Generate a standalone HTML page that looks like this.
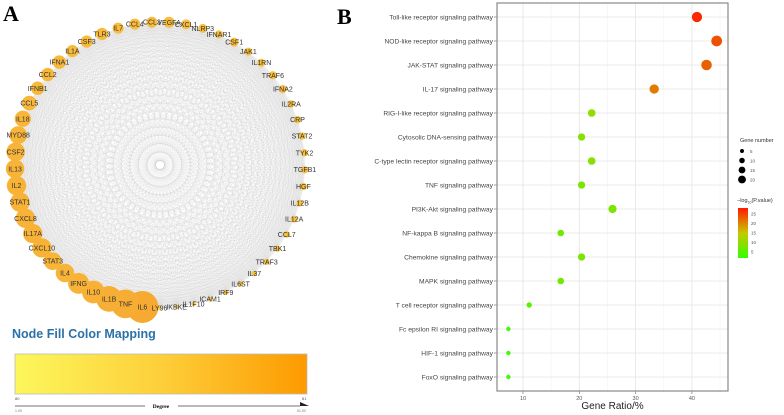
<!DOCTYPE html>
<html><head><meta charset="utf-8"><style>
body{margin:0;background:#fff;}
svg{display:block;font-family:"Liberation Sans",sans-serif;}
</style></head><body>
<svg id="fig" width="784" height="415" viewBox="0 0 784 415">
<defs>
<linearGradient id="degGrad" x1="0" x2="1" y1="0" y2="0"><stop offset="0" stop-color="#fdf75c"/><stop offset="0.5" stop-color="#fdcf3a"/><stop offset="1" stop-color="#fd9a00"/></linearGradient>
<linearGradient id="pGrad" x1="0" x2="0" y1="1" y2="0"><stop offset="0" stop-color="#33ff00"/><stop offset="0.5" stop-color="#c8c800"/><stop offset="1" stop-color="#ff1a00"/></linearGradient>
</defs>
<text x="3" y="21" font-family="Liberation Serif,serif" font-weight="bold" font-size="22">A</text>
<text x="337" y="24" font-family="Liberation Serif,serif" font-weight="bold" font-size="22">B</text>
<g id="edges"></g>
<g id="nodes"></g>
<g id="labels"></g>
<text x="12" y="338" font-size="12.5" font-weight="bold" fill="#2a72a8">Node Fill Color Mapping</text>
<rect x="15" y="354" width="292" height="40" fill="url(#degGrad)" stroke="#bbb" stroke-width="0.8"/>
<text x="15" y="400" font-size="4" fill="#555">80</text>
<text x="302" y="400" font-size="4" fill="#555">81</text>
<line x1="15" y1="406" x2="145" y2="406" stroke="#444" stroke-width="0.8"/>
<line x1="178" y1="406" x2="300" y2="406" stroke="#444" stroke-width="0.8"/>
<polygon points="300,402 309,406 300,406" fill="#222"/>
<text x="161" y="408" font-family="Liberation Serif,serif" font-size="5.5" font-weight="bold" text-anchor="middle">Degree</text>
<text x="15" y="412" font-size="3.5" fill="#777">1.00</text>
<text x="297" y="412" font-size="3.5" fill="#777">51.00</text>
<g id="dot"></g>
</svg>
<script>
const nodeNames=["CCL4","CCL3","VEGFA","CXCL1","NLRP3","IFNAR1","CSF1","JAK1","IL1RN","TRAF6","IFNA2","IL2RA","CRP","STAT2","TYK2","TGFB1","HGF","IL12B","IL12A","CCL7","TBK1","TRAF3","IL37","IL6ST","IRF9","ICAM1","IL1F10","IKBKE","LY96","IL6","TNF","IL1B","IL10","IFNG","IL4","STAT3","CXCL10","IL17A","CXCL8","STAT1","IL2","IL13","CSF2","MYD88","IL18","CCL5","IFNB1","CCL2","IFNA1","IL1A","CSF3","TLR3","IL7"];
const nodeDegree=[26,26,26,24,22,20,22,20,20,20,20,18,18,18,18,18,18,17,17,16,15,15,12,12,10,8,6,4,3,51,48,45,42,40,37,36,38,38,38,38,38,37,37,36,34,32,30,30,30,28,28,28,26];
const ns="http://www.w3.org/2000/svg";
const cx=160,cy=165,R=145;
const eg=document.getElementById('edges'),ng=document.getElementById('nodes'),lgp=document.getElementById('labels');
const N=nodeNames.length;
const pos=nodeNames.map((n,i)=>{const a=-100*Math.PI/180+(i/N)*2*Math.PI;return [cx+R*Math.cos(a),cy+143*Math.sin(a)];});
let d="";
for(let i=0;i<N;i++)for(let j=i+1;j<N;j++){d+=`M${pos[i][0].toFixed(1)} ${pos[i][1].toFixed(1)}L${pos[j][0].toFixed(1)} ${pos[j][1].toFixed(1)}`;}
const ep=document.createElementNS(ns,'path');ep.setAttribute('d',d);ep.setAttribute('stroke','#aaa');ep.setAttribute('stroke-opacity','0.18');ep.setAttribute('stroke-width','0.4');ep.setAttribute('fill','none');


eg.appendChild(ep);
function lerp(a,b,t){return Math.round(a+(b-a)*t);}
nodeNames.forEach((n,i)=>{
  const deg=nodeDegree[i];const t=(deg-1)/50;
  const r=2+14*t*t;
  const c=document.createElementNS(ns,'circle');
  c.setAttribute('cx',pos[i][0]);c.setAttribute('cy',pos[i][1]);c.setAttribute('r',r);
  c.setAttribute('fill',`rgb(${lerp(250,247,t)},${lerp(205,170,t)},${lerp(70,50,t)})`);
  
  
  ng.appendChild(c);
  const tx=document.createElementNS(ns,'text');
  tx.setAttribute('x',pos[i][0]);tx.setAttribute('y',pos[i][1]+2.5);tx.setAttribute('text-anchor','middle');
  tx.setAttribute('font-size','7');tx.setAttribute('fill','#333');tx.textContent=n;
  
  
  lgp.appendChild(tx);
});

const pathways=["Toll-like receptor signaling pathway","NOD-like receptor signaling pathway","JAK-STAT signaling pathway","IL-17 signaling pathway","RIG-I-like receptor signaling pathway","Cytosolic DNA-sensing pathway","C-type lectin receptor signaling pathway","TNF signaling pathway","PI3K-Akt signaling pathway","NF-kappa B signaling pathway","Chemokine signaling pathway","MAPK signaling pathway","T cell receptor signaling pathway","Fc epsilon RI signaling pathway","HIF-1 signaling pathway","FoxO signaling pathway"];
const geneRatio=[40.9,44.4,42.6,33.3,22.2,20.4,22.2,20.4,25.9,16.7,20.4,16.7,11.1,7.4,7.4,7.4];
const geneCount=[22,24,23,18,12,11,12,11,14,9,11,9,6,4,4,4];
const negLogP=[26,23,22,20,10,9,9,8,8,7,8,7,5,3,3,3];
const xTicks=[10,20,30,40];
const sizeLegend=[5,10,15,20];
const colorLegend=[5,10,15,20,25];
const g=document.getElementById('dot');
const L=497,Rr=728,T=3,B=391;
const xs=v=>466.7+5.63*v;
const ys=i=>17+i*24;
const col=p=>{const t=Math.max(0,Math.min(1,(p-2)/25));let r,gg;if(t<0.5){r=lerp(51,200,t*2);gg=lerp(255,200,t*2);}else{r=lerp(200,255,(t-0.5)*2);gg=lerp(200,26,(t-0.5)*2);}return `rgb(${r},${gg},0)`;};
const rad=n=>1.1*Math.sqrt(n);
let h=`<rect x="${L}" y="${T}" width="${Rr-L}" height="${B-T}" fill="#fff"/>`;
[15,25,35,45].forEach(v=>{h+=`<line x1="${xs(v)}" x2="${xs(v)}" y1="${T}" y2="${B}" stroke="#f2f2f2" stroke-width="0.6"/>`;});
xTicks.forEach(v=>{h+=`<line x1="${xs(v)}" x2="${xs(v)}" y1="${T}" y2="${B}" stroke="#e4e4e4" stroke-width="0.8"/><line x1="${xs(v)}" x2="${xs(v)}" y1="${B}" y2="${B+3}" stroke="#666" stroke-width="0.6"/><text x="${xs(v)}" y="${B+9}" font-size="5.5" fill="#555" text-anchor="middle">${v}</text>`;});
pathways.forEach((p,i)=>{h+=`<line x1="${L}" x2="${Rr}" y1="${ys(i)}" y2="${ys(i)}" stroke="#e4e4e4" stroke-width="0.8"/><line x1="${L-3}" x2="${L}" y1="${ys(i)}" y2="${ys(i)}" stroke="#666" stroke-width="0.6"/><text x="${L-4}" y="${ys(i)+2.3}" font-size="6.7" fill="#444" text-anchor="end">${p}</text>`;});
h+=`<rect x="${L}" y="${T}" width="${Rr-L}" height="${B-T}" fill="none" stroke="#888" stroke-width="1.2"/>`;
h+=`<text x="${(L+Rr)/2}" y="409" font-size="10" fill="#222" text-anchor="middle">Gene Ratio/%</text>`;
g.innerHTML=h;
pathways.forEach((p,i)=>{
  const c=document.createElementNS(ns,'circle');
  c.setAttribute('cx',xs(geneRatio[i]));c.setAttribute('cy',ys(i));c.setAttribute('r',rad(geneCount[i]));c.setAttribute('fill',col(negLogP[i]));
  
  
  g.appendChild(c);
});
let lg=`<text x="740" y="142" font-size="5.5" fill="#333">Gene number</text>`;
sizeLegend.forEach((v,i)=>{const y=151+i*9.5;lg+=`<circle cx="742" cy="${y}" r="${rad(v)*0.8}" fill="#000"/><text x="750" y="${y+2}" font-size="4.5" fill="#555">${v}</text>`;});
lg+=`<text x="737" y="202" font-size="5.5" fill="#333">−log<tspan font-size="3.5" dy="1.5">10</tspan><tspan dy="-1.5">(P.value)</tspan></text>`;
lg+=`<rect x="738" y="208" width="10" height="50" fill="url(#pGrad)"/>`;
colorLegend.forEach(v=>{const y=258-(v-2)/25*48;lg+=`<text x="751" y="${y+1.5}" font-size="4.5" fill="#555">${v}</text>`;});
g.insertAdjacentHTML('beforeend',lg);
</script>
</body></html>
